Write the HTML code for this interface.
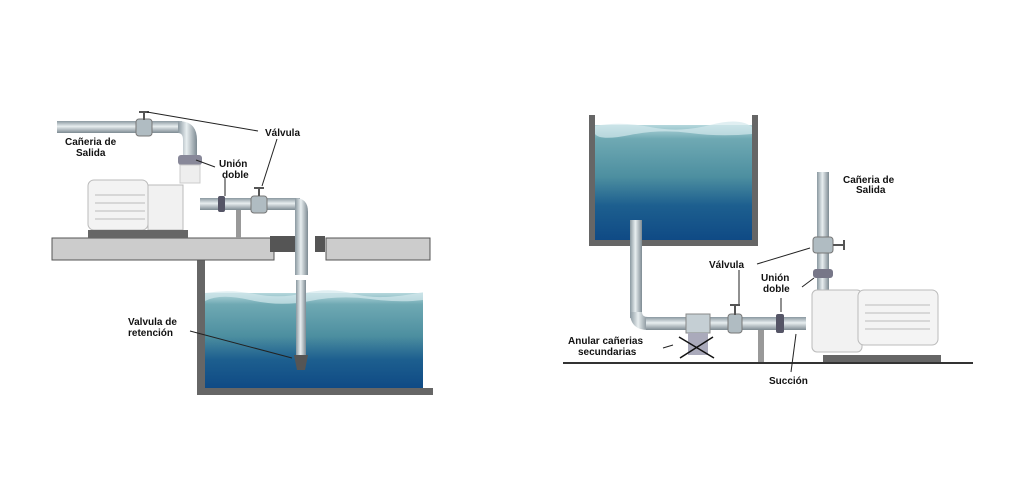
<!DOCTYPE html>
<html><head><style>
html,body{margin:0;padding:0;background:#fff;width:1025px;height:495px;overflow:hidden}
svg text{font-family:"Liberation Sans",sans-serif;font-weight:bold;font-size:10px;fill:#111}
</style></head><body>
<svg width="1025" height="495" viewBox="0 0 1025 495" xmlns="http://www.w3.org/2000/svg">
<defs>
<linearGradient id="w" x1="0" y1="0" x2="0" y2="1">
<stop offset="0" stop-color="#b5d7dc"/><stop offset="0.12" stop-color="#6fa9b3"/><stop offset="0.45" stop-color="#4d8fa0"/><stop offset="0.7" stop-color="#1d5f8f"/><stop offset="1" stop-color="#0f4a85"/></linearGradient>
<linearGradient id="pv" x1="0" y1="0" x2="1" y2="0"><stop offset="0" stop-color="#8a98a0"/><stop offset="0.45" stop-color="#e8eef0"/><stop offset="1" stop-color="#7d8a92"/></linearGradient>
<linearGradient id="ph" x1="0" y1="0" x2="0" y2="1"><stop offset="0" stop-color="#8a98a0"/><stop offset="0.45" stop-color="#e8eef0"/><stop offset="1" stop-color="#7d8a92"/></linearGradient>
</defs>
<!-- LEFT -->
<rect x="205" y="293" width="218" height="95" fill="url(#w)"/>
<path d="M205 293 Q230 289 255 294 T305 293 T355 294 T423 292 L423 300 Q400 303 370 299 T310 301 T250 300 T205 301Z" fill="#d3e8ec" opacity="0.7"/>
<rect x="197" y="260" width="8" height="135" fill="#666"/>
<rect x="197" y="388" width="236" height="7" fill="#666"/>
<rect x="52" y="238" width="222" height="22" fill="#ccc" stroke="#555"/>
<rect x="326" y="238" width="104" height="22" fill="#ccc" stroke="#555"/>
<rect x="270" y="236" width="30" height="16" fill="#555"/>
<rect x="315" y="236" width="10" height="16" fill="#555"/>
<rect x="57" y="121" width="125" height="12" fill="url(#ph)"/>
<path d="M178 121 Q197 121 197 140 L197 170 L183 170 L183 140 Q183 133 178 133Z" fill="url(#pv)"/>
<rect x="136" y="119" width="16" height="17" rx="3" fill="#b0bcc2" stroke="#777"/>
<rect x="143" y="112" width="2" height="8" fill="#555"/><rect x="139" y="111" width="10" height="2" fill="#555"/>
<rect x="178" y="155" width="24" height="10" rx="3" fill="#889"/>
<rect x="180" y="165" width="20" height="18" fill="#eee" stroke="#ccc"/>
<rect x="88" y="180" width="60" height="50" rx="6" fill="#f3f3f3" stroke="#bbb"/>
<g stroke="#bbb"><line x1="95" y1="195" x2="145" y2="195"/><line x1="95" y1="203" x2="145" y2="203"/><line x1="95" y1="211" x2="145" y2="211"/><line x1="95" y1="219" x2="145" y2="219"/></g>
<rect x="148" y="185" width="35" height="45" fill="#f1f1f1" stroke="#bbb"/>
<rect x="88" y="230" width="100" height="8" fill="#666"/>
<rect x="200" y="198" width="100" height="12" fill="url(#ph)"/>
<path d="M295 198 Q308 198 308 212 L308 275 L295 275 L295 212Z" fill="url(#pv)"/>
<rect x="296" y="280" width="10" height="75" fill="url(#pv)"/>
<path d="M294 355 L308 355 L305 370 L297 370Z" fill="#555"/>
<rect x="218" y="196" width="7" height="16" rx="2" fill="#556"/>
<rect x="251" y="196" width="16" height="17" rx="3" fill="#b0bcc2" stroke="#777"/>
<rect x="258" y="188" width="2" height="8" fill="#555"/><rect x="254" y="187" width="10" height="2" fill="#555"/>
<rect x="236" y="210" width="5" height="28" fill="#999"/>
<g stroke="#222" stroke-width="1"><line x1="147" y1="112" x2="258" y2="131"/><line x1="277" y1="139" x2="262" y2="186"/><line x1="196" y1="160" x2="215" y2="167"/><line x1="225" y1="178" x2="225" y2="196"/><line x1="190" y1="331" x2="292" y2="358"/></g>
<text x="65" y="145">Cañeria de</text><text x="76" y="156">Salida</text>
<text x="265" y="136">Válvula</text>
<text x="219" y="167">Unión</text><text x="222" y="178">doble</text>
<text x="128" y="325">Valvula de</text><text x="128" y="336">retención</text>
<!-- RIGHT -->
<rect x="595" y="125" width="157" height="115" fill="url(#w)"/>
<path d="M595 126 Q620 121 650 127 T710 125 T752 127 L752 134 Q720 137 690 133 T630 135 T595 134Z" fill="#d3e8ec" opacity="0.7"/>
<rect x="589" y="115" width="6" height="131" fill="#666"/>
<rect x="752" y="115" width="6" height="131" fill="#666"/>
<rect x="589" y="240" width="169" height="6" fill="#666"/>
<rect x="630" y="220" width="12" height="98" fill="url(#pv)"/>
<path d="M630 312 Q630 330 648 330 L648 317 Q642 317 642 312Z" fill="url(#pv)"/>
<rect x="646" y="317" width="160" height="13" fill="url(#ph)"/>
<rect x="686" y="314" width="24" height="19" fill="#c5cfd4" stroke="#888"/>
<rect x="688" y="333" width="20" height="22" fill="#aab"/>
<g stroke="#111" stroke-width="1.5"><line x1="679" y1="337" x2="714" y2="358"/><line x1="713" y1="337" x2="680" y2="358"/></g>
<rect x="728" y="314" width="14" height="19" rx="3" fill="#b0bcc2" stroke="#777"/>
<rect x="734" y="305" width="2" height="10" fill="#555"/><rect x="730" y="304" width="10" height="2" fill="#555"/>
<rect x="758" y="330" width="6" height="33" fill="#999"/>
<rect x="776" y="314" width="8" height="19" rx="2" fill="#556"/>
<rect x="817" y="172" width="12" height="120" fill="url(#pv)"/>
<rect x="813" y="237" width="20" height="16" rx="3" fill="#b0bcc2" stroke="#777"/>
<rect x="833" y="244" width="10" height="2" fill="#555"/><rect x="843" y="240" width="2" height="10" fill="#555"/>
<rect x="813" y="269" width="20" height="9" rx="3" fill="#778"/>
<rect x="812" y="290" width="50" height="62" rx="5" fill="#f2f2f2" stroke="#bbb"/>
<rect x="858" y="290" width="80" height="55" rx="6" fill="#f4f4f4" stroke="#bbb"/>
<g stroke="#bbb"><line x1="865" y1="305" x2="930" y2="305"/><line x1="865" y1="313" x2="930" y2="313"/><line x1="865" y1="321" x2="930" y2="321"/><line x1="865" y1="329" x2="930" y2="329"/></g>
<rect x="823" y="355" width="118" height="8" fill="#666"/>
<rect x="563" y="362" width="410" height="2" fill="#333"/>
<g stroke="#222" stroke-width="1"><line x1="757" y1="264" x2="810" y2="248"/><line x1="739" y1="270" x2="739" y2="304"/><line x1="802" y1="287" x2="814" y2="278"/><line x1="781" y1="298" x2="781" y2="312"/><line x1="796" y1="334" x2="791" y2="372"/><line x1="663" y1="348" x2="673" y2="345"/></g>
<text x="843" y="183">Cañeria de</text><text x="856" y="193">Salida</text>
<text x="709" y="268">Válvula</text>
<text x="761" y="281">Unión</text><text x="763" y="292">doble</text>
<text x="568" y="344">Anular cañerias</text><text x="578" y="355">secundarias</text>
<text x="769" y="384">Succión</text>
</svg>
</body></html>
